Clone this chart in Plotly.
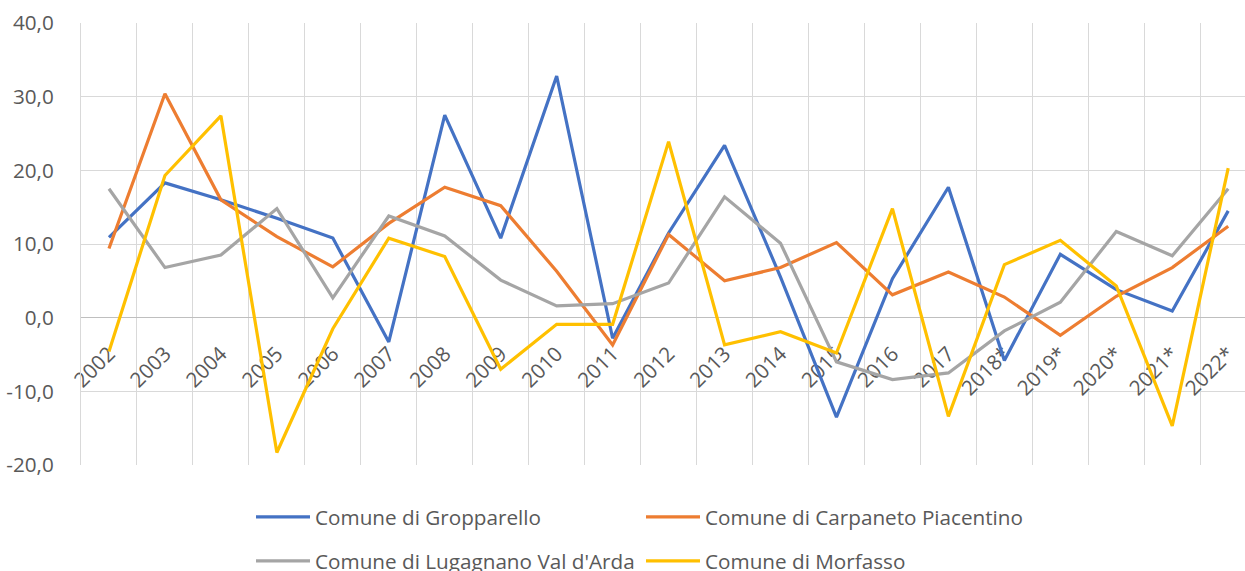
import plotly.graph_objects as go

years = ["2002", "2003", "2004", "2005", "2006", "2007", "2008", "2009", "2010", "2011",
         "2012", "2013", "2014", "2015", "2016", "2017", "2018*", "2019*", "2020*", "2021*", "2022*"]

gropparello = [10.9, 18.3, 16.0, 13.5, 10.8, -3.3, 27.5, 10.8, 32.8, -2.8,
               11.5, 23.4, 5.5, -13.5, 5.3, 17.7, -5.8, 8.6, 3.8, 0.9, 14.5]
carpaneto = [9.4, 30.4, 16.0, 11.0, 6.9, 12.8, 17.7, 15.2, 6.3, -3.7,
             11.3, 5.0, 6.8, 10.2, 3.1, 6.2, 2.8, -2.4, 2.9, 6.8, 12.4]
lugagnano = [17.5, 6.8, 8.5, 14.8, 2.7, 13.8, 11.1, 5.1, 1.6, 1.9,
             4.7, 16.4, 10.1, -6.0, -8.4, -7.5, -1.8, 2.1, 11.7, 8.4, 17.5]
morfasso = [-4.6, 19.3, 27.4, -18.3, -1.5, 10.8, 8.3, -7.0, -0.9, -0.9,
            23.9, -3.7, -1.9, -4.8, 14.8, -13.4, 7.2, 10.5, 4.3, -14.7, 20.3]

y_tick_vals = [-20, -10, 0, 10, 20, 30, 40]
y_tick_text = ["-20,0", "-10,0", "0,0", "10,0", "20,0", "30,0", "40,0"]

names = ["Comune di Gropparello", "Comune di Carpaneto Piacentino",
         "Comune di Lugagnano Val d'Arda", "Comune di Morfasso"]
colors = ["#4472C4", "#ED7D31", "#A5A5A5", "#FFC000"]
series = [gropparello, carpaneto, lugagnano, morfasso]
legend_ids = ["legend", "legend2", "legend3", "legend4"]

FONT = "Open Sans, DejaVu Sans, sans-serif"
TXT = "#595959"
FS = 20.7

fig = go.Figure()
for name, col, vals, lg in zip(names, colors, series, legend_ids):
    fig.add_trace(go.Scatter(x=years, y=vals, mode="lines", name=name,
                             line=dict(color=col, width=3.2), legend=lg))

W, H = 1245, 571
ml, mr, mt, mb = 81, 0, 23, 106
ph = H - mt - mb
pw = W - ml - mr


def ly(py):
    return (H - mb - py) / ph


def lx(px):
    return (px - ml) / pw


# legend box positions (page pixels): column lefts and row centres
leg_pos = {"legend": (251, 517), "legend2": (641, 517),
           "legend3": (251, 561), "legend4": (641, 561)}
leg_layout = {}
for lg, (px, py) in leg_pos.items():
    leg_layout[lg] = dict(orientation="h", x=lx(px), xanchor="left", y=ly(py), yanchor="middle",
                          font=dict(family=FONT, size=FS, color=TXT), itemwidth=54,
                          bgcolor="rgba(0,0,0,0)")

fig.update_layout(
    width=W, height=H,
    margin=dict(l=ml, r=mr, t=mt, b=mb, autoexpand=False),
    paper_bgcolor="white", plot_bgcolor="white",
    separators=",.",
    font=dict(family=FONT, size=FS, color=TXT),
    showlegend=True,
    **leg_layout,
    xaxis=dict(type="category", range=[-0.5, 20.3], tickson="boundaries",
               showgrid=True, gridcolor="#D9D9D9", gridwidth=1.2,
               anchor="free", position=20 / 60, showline=False, zeroline=False,
               ticks="", tickangle=-45, layer="below traces", ticklabelstandoff=19,
               automargin=False,
               tickfont=dict(family=FONT, size=FS, color=TXT)),
    yaxis=dict(range=[-20, 40], tickmode="array", tickvals=y_tick_vals, ticktext=y_tick_text,
               showgrid=True, gridcolor="#D9D9D9", gridwidth=1.2,
               zeroline=True, zerolinecolor="#BFBFBF", zerolinewidth=1.3,
               showline=True, linecolor="#D9D9D9", linewidth=1.2, mirror=False,
               ticks="", ticklabelstandoff=22, automargin=False,
               tickfont=dict(family=FONT, size=FS, color=TXT)),
)

fig.write_html("out.html", config={"displayModeBar": False},
               post_script="document.body.style.margin='0';")
